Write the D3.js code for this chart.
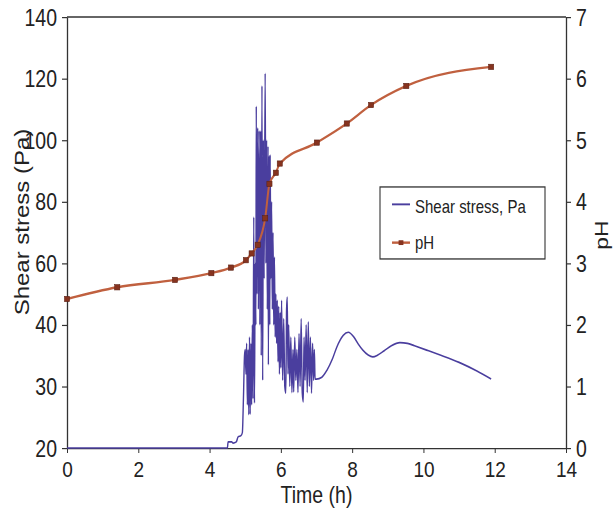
<!DOCTYPE html>
<html>
<head>
<meta charset="utf-8">
<script src="https://cdn.jsdelivr.net/npm/d3@7"></script>
<style>
  html, body { margin: 0; padding: 0; background: #fff; }
  svg { display: block; }
  text { font-family: "Liberation Sans", Arial, Helvetica, sans-serif; fill: #222; }
</style>
</head>
<body>
<svg id="chart" width="613" height="510" viewBox="0 0 613 425" preserveAspectRatio="none"></svg>
<script>
// ---------- data ----------
const shearTime = [0, 4.50, 4.52, 4.62, 4.66, 4.75, 4.80, 4.88, 4.92, 4.95, 4.98,
  5.00, 5.02, 5.04, 5.06, 5.08, 5.10, 5.12, 5.14, 5.16, 5.18, 5.20, 5.22, 5.24, 5.26, 5.28,
  5.30, 5.31, 5.33, 5.35, 5.37, 5.39, 5.41, 5.43, 5.45, 5.47, 5.49, 5.51, 5.53, 5.56, 5.58,
  5.60, 5.62, 5.64, 5.65, 5.67, 5.69, 5.70, 5.72, 5.74, 5.76, 5.78, 5.80, 5.82, 5.84, 5.86,
  5.88, 5.90, 5.92, 5.94, 5.96, 5.98, 6.00, 6.02, 6.05, 6.08, 6.11, 6.14, 6.16, 6.18, 6.20,
  6.22, 6.25, 6.28, 6.31, 6.34, 6.36, 6.39, 6.42, 6.45, 6.48, 6.51, 6.54, 6.57, 6.60, 6.63,
  6.65, 6.68, 6.71, 6.74, 6.77, 6.80, 6.83, 6.86, 6.89, 6.92, 6.94, 6.96,
  7.00, 7.15, 7.29, 7.45, 7.57, 7.75, 7.89, 8.05, 8.17, 8.30, 8.45, 8.58, 8.72, 8.90,
  9.10, 9.34, 9.55, 9.75, 10.09, 10.47, 11.0, 11.5, 11.9];
const shearValue = [20, 20, 21, 21, 20.8, 21, 21.8, 22, 22.5, 28, 35,
  36, 32, 37, 27, 36, 25.4, 38, 25.5, 37, 27, 40, 28, 75, 27.3, 60,
  40, 111, 50, 104, 45, 103, 40, 103, 35, 117.6, 31, 100, 55, 121.7, 60,
  100, 45, 98, 33.5, 95, 40, 95.2, 55, 80, 45, 70, 40, 62, 38, 50,
  37, 48, 34, 46, 32, 44, 33, 48, 31, 42, 30, 28.9, 45, 49, 32,
  40, 30, 38, 29, 36, 29.1, 38, 31, 36, 29, 38.6, 30, 42, 29, 27.5,
  38, 31, 40, 29, 41, 30, 38, 28.9, 37, 31, 36, 31.2,
  31.2, 31.5, 32.6, 34.5, 36.4, 38.3, 38.8, 38.0, 36.9, 35.9, 35.1, 34.8, 35.1, 35.8,
  36.6, 37.1, 37.0, 36.6, 35.9, 35.1, 33.9, 32.5, 31.2];

const phTime  = [0, 1.41, 3.03, 4.05, 4.60, 5.02, 5.18, 5.35, 5.56, 5.68, 5.86, 5.97, 7.01, 7.85, 8.53, 9.52, 11.90];
const phValue = [2.42, 2.61, 2.73, 2.84, 2.93, 3.05, 3.16, 3.30, 3.73, 4.29, 4.47, 4.62, 4.96, 5.27, 5.57, 5.88, 6.19];

const xTicks = [0, 2, 4, 6, 8, 10, 12, 14];
const leftTicks = [20, 30, 40, 60, 80, 100, 120, 140];
const rightTicks = [0, 1, 2, 3, 4, 5, 6, 7];

const legendLabels = ["Shear stress, Pa", "pH"];

// ---------- layout (internal units; SVG is stretched vertically by 1.2) ----------
const L = 67, R = 566, T = 14.17, B = 373.33;
const svg = d3.select("#chart");

const x = d3.scaleLinear().domain([0, 14]).range([L, R]);
const yL = d3.scaleLinear()
  .domain(leftTicks)
  .range(leftTicks.map((d, i) => B - i * (B - T) / (leftTicks.length - 1)));
const yR = d3.scaleLinear().domain([0, 7]).range([B, T]);

const axisColor = "#333";
const shearColor = "#4a3e9e";
const phLineColor = "#c0603f";
const phMarkColor = "#86331f";

// border top
svg.append("line").attr("x1", L).attr("x2", R).attr("y1", T).attr("y2", T)
  .attr("stroke", axisColor).attr("stroke-width", 1.1);

// axes
const gx = svg.append("g").attr("transform", `translate(0,${B})`)
  .call(d3.axisBottom(x).tickValues(xTicks).tickSize(4.2).tickSizeOuter(0).tickFormat(d3.format("d")));
gx.selectAll("text").attr("y", 24.6).attr("dy", 0).style("font-size", "19px");

const gl = svg.append("g").attr("transform", `translate(${L},0)`)
  .call(d3.axisLeft(yL).tickValues(leftTicks).tickSize(5).tickSizeOuter(0).tickFormat(d3.format("d")));
gl.selectAll("text").attr("x", -10).attr("dy", "0.34em").style("font-size", "19.5px");

const gr = svg.append("g").attr("transform", `translate(${R},0)`)
  .call(d3.axisRight(yR).tickValues(rightTicks).tickSize(5).tickSizeOuter(0).tickFormat(d3.format("d")));
gr.selectAll("text").attr("x", 10).attr("dy", "0.34em").style("font-size", "19.5px");

[gx, gl, gr].forEach(g => {
  g.select(".domain").attr("stroke", axisColor).attr("stroke-width", 1.3);
  g.selectAll(".tick line").attr("stroke", axisColor).attr("stroke-width", 1);
  g.selectAll("text").style("fill", "#222").style("font-family", "'Liberation Sans', Arial, sans-serif");
});
gx.select(".domain").attr("stroke-width", 1.1);

// axis titles
svg.append("text").attr("x", (L + R) / 2).attr("y", 419.5).attr("text-anchor", "middle")
  .style("font-size", "19.5px").text("Time (h)");
svg.append("text").attr("transform", `translate(29,185) rotate(-90)`).attr("text-anchor", "middle")
  .style("font-size", "20px").text("Shear stress (Pa)");
svg.append("text").attr("transform", `translate(608,196) rotate(-90)`).attr("text-anchor", "middle")
  .style("font-size", "19px").text("pH");

// shear stress line
const shearData = shearTime.map((t, i) => ({ t, v: shearValue[i] }));
svg.append("path").datum(shearData)
  .attr("fill", "none").attr("stroke", shearColor).attr("stroke-width", 1.4)
  .attr("stroke-linejoin", "round")
  .attr("d", d3.line().x(d => x(d.t)).y(d => yL(d.v)).curve(d3.curveMonotoneX));

// pH line + markers
const phData = phTime.map((t, i) => ({ t, v: phValue[i] }));
svg.append("path").datum(phData)
  .attr("fill", "none").attr("stroke", phLineColor).attr("stroke-width", 2)
  .attr("d", d3.line().x(d => x(d.t)).y(d => yR(d.v)).curve(d3.curveMonotoneX));
svg.selectAll("rect.ph").data(phData).enter().append("rect").attr("class", "ph")
  .attr("x", d => x(d.t) - 2.6).attr("y", d => yR(d.v) - 2.2)
  .attr("width", 5.2).attr("height", 4.4)
  .attr("fill", phMarkColor).attr("stroke", "#5a2014").attr("stroke-width", 0.5);

// legend
const lg = svg.append("g");
lg.append("rect").attr("x", 380).attr("y", 155.8).attr("width", 165).attr("height", 60)
  .attr("fill", "#fff").attr("stroke", "#333").attr("stroke-width", 1.1);
lg.append("line").attr("x1", 392).attr("x2", 410).attr("y1", 170.3).attr("y2", 170.3)
  .attr("stroke", shearColor).attr("stroke-width", 1.6);
lg.append("text").attr("x", 415).attr("y", 177.2).style("font-size", "15px").text(legendLabels[0]);
lg.append("line").attr("x1", 392).attr("x2", 410).attr("y1", 202.2).attr("y2", 202.2)
  .attr("stroke", phLineColor).attr("stroke-width", 2);
lg.append("rect").attr("x", 401 - 2.4).attr("y", 202.2 - 2).attr("width", 4.8).attr("height", 4)
  .attr("fill", phMarkColor);
lg.append("text").attr("x", 415).attr("y", 207.5).style("font-size", "15px").text(legendLabels[1]);
</script>
</body>
</html>
